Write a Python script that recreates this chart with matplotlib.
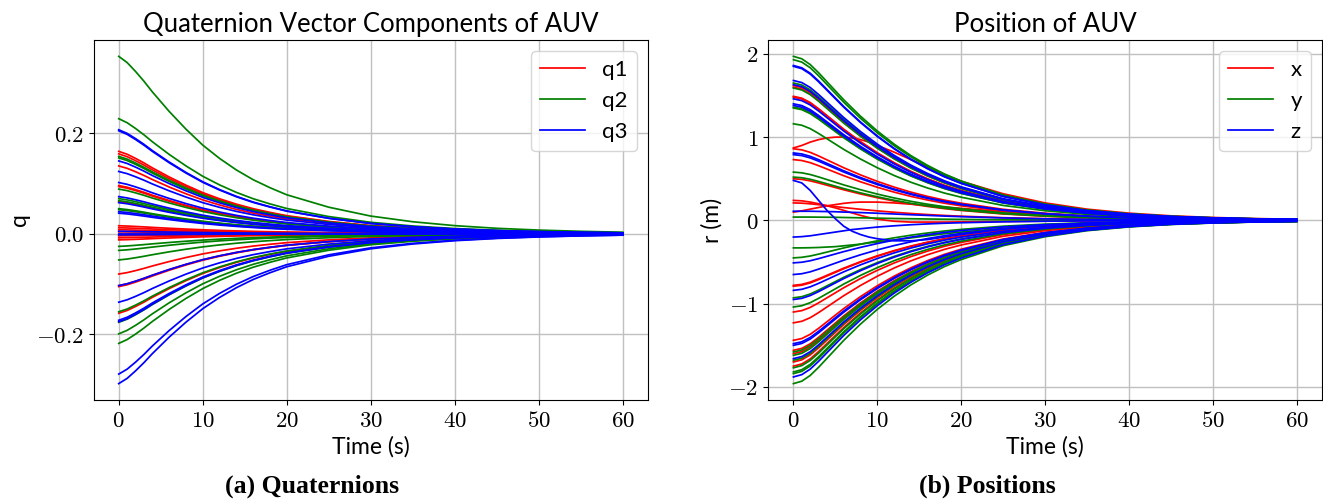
# AUV attitude / position convergence plots
import numpy as np
import matplotlib
matplotlib.use('Agg')
import matplotlib.pyplot as plt
from matplotlib.ticker import FuncFormatter

# ----------------------------------------------------------------------------------------------------------------------
#  DATA
# ----------------------------------------------------------------------------------------------------------------------
t_grid = [0, 1, 2, 3, 4, 5, 6, 7, 8, 9, 10, 12, 14, 16, 18, 20, 25, 30, 35, 40, 45, 50, 55, 60]

# normalised decay shape of the quaternion components
q_profile = [1.0, 0.965, 0.915, 0.86, 0.80, 0.745, 0.69, 0.64, 0.59, 0.545, 0.50, 0.425,
             0.36, 0.305, 0.26, 0.22, 0.15, 0.10, 0.068, 0.046, 0.031, 0.021, 0.014, 0.009]

# initial quaternion components, one entry per run
q1_start = [0.164, 0.159, 0.135, 0.096, 0.094, 0.064, 0.016, 0.012, 0.008, 0.004, 0.0,
            -0.004, -0.008, -0.012, -0.080, -0.103, -0.105, -0.158]
q2_start = [0.353, 0.229, 0.154, 0.151, 0.089, 0.070, 0.066, 0.050, 0.048, -0.025,
            -0.033, -0.052, -0.155, -0.176, -0.199, -0.218]
q3_start = [0.207, 0.205, 0.145, 0.124, 0.102, 0.074, 0.062, 0.044, 0.041, 0.005, 0.0,
            -0.002, -0.103, -0.136, -0.172, -0.175, -0.279, -0.298]

# normalised decay shape of the position components
r_profile = [1.0, 0.985, 0.95, 0.90, 0.845, 0.79, 0.735, 0.685, 0.635, 0.59, 0.545, 0.465,
             0.395, 0.335, 0.283, 0.24, 0.155, 0.10, 0.063, 0.04, 0.025, 0.016, 0.010, 0.006]

x_start = [1.62, 1.60, 1.49, 1.48, 0.86, 0.73, 0.50, 0.21, -0.78, -0.79, -1.10, -1.23,
           -1.44, -1.56, -1.60, -1.70, -1.75]
y_start = [1.97, 1.93, 1.65, 1.59, 1.36, 1.35, 1.16, 0.58, 0.52, -0.45, -0.93, -1.04,
           -1.58, -1.62, -1.68, -1.77, -1.82, -1.84, -1.96]
z_start = [1.86, 1.85, 1.68, 1.63, 1.46, 1.40, 1.38, 0.81, 0.79, -0.51, -0.65, -0.84,
           -0.95, -1.48, -1.50, -1.66, -1.88]

# runs that do not follow the common shape
x_bump   = [0.87, 0.90, 0.94, 0.97, 0.99, 1.0, 1.0, 0.99, 0.97, 0.94, 0.90, 0.82,
            0.73, 0.64, 0.55, 0.47, 0.32, 0.21, 0.135, 0.087, 0.055, 0.035, 0.022, 0.014]
x_rise   = [0.10, 0.115, 0.135, 0.155, 0.175, 0.19, 0.205, 0.215, 0.22, 0.22, 0.22, 0.21,
            0.195, 0.18, 0.16, 0.145, 0.105, 0.07, 0.045, 0.03, 0.018, 0.011, 0.007, 0.004]
x_drop   = [0.24, 0.235, 0.22, 0.20, 0.175, 0.15, 0.12, 0.09, 0.06, 0.035, 0.015, -0.01,
            -0.02, -0.02, -0.02, -0.018, -0.013, -0.009, -0.006, -0.004, -0.002, -0.001, -0.001, 0.0]
y_flat   = [0.04, 0.04, 0.04, 0.039, 0.038, 0.037, 0.035, 0.033, 0.031, 0.029, 0.027, 0.023,
            0.02, 0.017, 0.014, 0.012, 0.008, 0.005, 0.003, 0.002, 0.001, 0.001, 0.0, 0.0]
y_slow   = [-0.33, -0.33, -0.328, -0.325, -0.32, -0.315, -0.305, -0.295, -0.285, -0.27, -0.26, -0.235,
            -0.21, -0.185, -0.16, -0.14, -0.095, -0.062, -0.04, -0.026, -0.016, -0.01, -0.006, -0.004]
z_over   = [0.48, 0.45, 0.36, 0.24, 0.12, 0.02, -0.07, -0.13, -0.17, -0.20, -0.22, -0.245,
            -0.245, -0.23, -0.20, -0.17, -0.105, -0.062, -0.036, -0.021, -0.012, -0.007, -0.004, -0.002]
z_flat   = [0.11, 0.11, 0.11, 0.108, 0.106, 0.104, 0.10, 0.097, 0.094, 0.09, 0.086, 0.077,
            0.068, 0.06, 0.052, 0.045, 0.03, 0.019, 0.012, 0.008, 0.005, 0.003, 0.002, 0.001]
z_rise   = [-0.20, -0.195, -0.185, -0.17, -0.155, -0.14, -0.125, -0.11, -0.10, -0.09, -0.08, -0.065,
            -0.052, -0.042, -0.034, -0.028, -0.017, -0.01, -0.006, -0.004, -0.002, -0.001, -0.001, 0.0]

# ----------------------------------------------------------------------------------------------------------------------
#  PLOT
# ----------------------------------------------------------------------------------------------------------------------
plt.rcParams['font.family']      = ['Lato', 'DejaVu Sans']
plt.rcParams['mathtext.fontset'] = 'cm'

line_width  = 1.25
colors      = ['#ff0000', '#008000', '#0000ff']
tick_size   = 16.5
label_size  = 16.5
title_size  = 18.5
legend_size = 16


def plot_family(ax, starts, profile, color, label, extra=()):
    t = np.array(t_grid)
    first = True
    for s in starts:
        ax.plot(t, s*np.array(profile), color=color, lw=line_width, label=label if first else None)
        first = False
    for run in extra:
        ax.plot(t, run, color=color, lw=line_width)


def style_axes(ax, fmt):
    ax.grid(True, color='#c0c0c0', lw=1.0)
    ax.set_axisbelow(True)
    ax.xaxis.set_major_formatter(FuncFormatter(lambda v, p: r'$%d$' % v))
    ax.yaxis.set_major_formatter(FuncFormatter(lambda v, p: fmt % v))
    ax.tick_params(labelsize=tick_size)
    ax.set_xlabel('Time (s)', fontsize=label_size)
    ax.legend(loc='upper right', fontsize=legend_size)


fig = plt.figure(figsize=(13.23, 5.03), dpi=100)
ax1 = fig.add_axes([0.0707, 0.2048, 0.419, 0.7157])
ax2 = fig.add_axes([0.5807, 0.2048, 0.4185, 0.7157])

plot_family(ax1, q1_start, q_profile, colors[0], 'q1')
plot_family(ax1, q2_start, q_profile, colors[1], 'q2')
plot_family(ax1, q3_start, q_profile, colors[2], 'q3')
ax1.set_xticks([0, 10, 20, 30, 40, 50, 60])
ax1.set_yticks([-0.2, 0.0, 0.2])
style_axes(ax1, r'$%.1f$')
ax1.set_ylabel('q', fontsize=label_size)
ax1.set_title('Quaternion Vector Components of AUV', fontsize=title_size)

plot_family(ax2, x_start, r_profile, colors[0], 'x', extra=[x_bump, x_rise, x_drop])
plot_family(ax2, y_start, r_profile, colors[1], 'y', extra=[y_flat, y_slow])
plot_family(ax2, z_start, r_profile, colors[2], 'z', extra=[z_over, z_flat, z_rise])
ax2.set_xticks([0, 10, 20, 30, 40, 50, 60])
ax2.set_yticks([-2, -1, 0, 1, 2])
style_axes(ax2, r'$%d$')
ax2.set_ylabel('r (m)', fontsize=label_size)
ax2.set_title('Position of AUV', fontsize=title_size)

# sub-figure captions
cap_font = dict(family='Liberation Serif', weight='bold', fontsize=18.5, ha='center', va='center')
fig.text(0.236, 0.034, '(a) Quaternions', **cap_font)
fig.text(0.746, 0.034, '(b) Positions', **cap_font)

fig.savefig('out.png', dpi=100)
